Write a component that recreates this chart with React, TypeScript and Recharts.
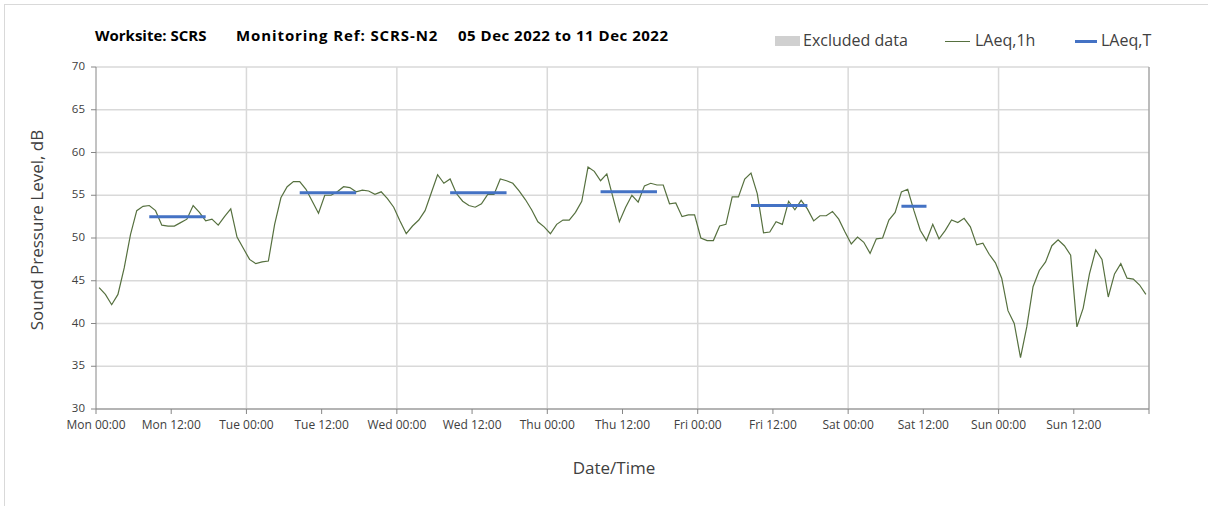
import { LineChart, Line, XAxis, YAxis, CartesianGrid, ReferenceLine } from "recharts";

// LAeq,1h readings, one per hour from Mon 00:00 (05 Dec 2022) to Sun 23:00 (11 Dec 2022)
const hourlyLevels = [
  // Mon
  44.2, 43.4, 42.2, 43.4, 46.5, 50.4, 53.2, 53.7, 53.8, 53.2, 51.5, 51.4,
  51.4, 51.8, 52.2, 53.8, 53.0, 52.0, 52.2, 51.5, 52.5, 53.4, 50.1, 48.8,
  // Tue
  47.5, 47.0, 47.2, 47.3, 51.6, 54.7, 56.0, 56.6, 56.6, 55.7, 54.3, 52.9,
  55.0, 55.0, 55.4, 56.0, 55.9, 55.4, 55.6, 55.5, 55.1, 55.4, 54.6, 53.6,
  // Wed
  52.0, 50.5, 51.4, 52.1, 53.2, 55.3, 57.4, 56.4, 56.9, 55.2, 54.3, 53.8,
  53.6, 54.0, 55.1, 55.1, 56.9, 56.7, 56.4, 55.5, 54.5, 53.3, 51.9, 51.3,
  // Thu
  50.5, 51.6, 52.1, 52.1, 53.0, 54.3, 58.3, 57.8, 56.7, 57.5, 54.7, 51.9,
  53.6, 55.0, 54.2, 56.1, 56.4, 56.2, 56.2, 54.0, 54.1, 52.5, 52.7, 52.7,
  // Fri
  50.0, 49.7, 49.7, 51.4, 51.6, 54.8, 54.8, 56.9, 57.6, 55.2, 50.6, 50.7,
  51.9, 51.6, 54.3, 53.3, 54.4, 53.4, 52.0, 52.6, 52.6, 53.1, 52.2, 50.7,
  // Sat
  49.3, 50.1, 49.5, 48.2, 49.9, 50.0, 52.1, 53.0, 55.4, 55.7, 53.2, 50.9,
  49.7, 51.6, 49.9, 50.9, 52.1, 51.8, 52.3, 51.3, 49.2, 49.4, 48.1, 47.1,
  // Sun
  45.3, 41.5, 40.0, 36.0, 39.6, 44.3, 46.2, 47.2, 49.1, 49.8, 49.1, 48.0,
  39.6, 41.8, 45.8, 48.6, 47.5, 43.1, 45.8, 47.0, 45.3, 45.2, 44.5, 43.4,
];

// LAeq,T over the daytime assessment period of each day (Mon..Sat)
const periodLevels = [52.5, 55.3, 55.3, 55.4, 53.8, 53.7];
const periodStartHour = [8, 8, 8, 8, 8, 8];
const periodEndHour = [18, 18, 18, 18, 18, 13];

const tickHours = [0, 12, 24, 36, 48, 60, 72, 84, 96, 108, 120, 132, 144, 156, 168];
const tickLabels = [
  "Mon 00:00", "Mon 12:00", "Tue 00:00", "Tue 12:00", "Wed 00:00", "Wed 12:00",
  "Thu 00:00", "Thu 12:00", "Fri 00:00", "Fri 12:00", "Sat 00:00", "Sat 12:00",
  "Sun 00:00", "Sun 12:00", "",
];
const dayBoundaries = [24, 48, 72, 96, 120, 144];
const yTicks = [30, 35, 40, 45, 50, 55, 60, 65, 70];

const chartData = hourlyLevels.map((v, i) => {
  const day = Math.floor(i / 24);
  const hr = i % 24;
  const inPeriod = day < periodLevels.length && hr >= periodStartHour[day] && hr < periodEndHour[day];
  return { t: i + 0.5, l1h: v, laeqT: inPeriod ? periodLevels[day] : null };
});

const FONT = "'Open Sans', 'Noto Sans', sans-serif";
const TEXT = "#404040";
const GREEN = "#56703f";
const BLUE = "#4472c4";

const abs = (left: number, top: number, extra: any = {}) => ({ position: "absolute" as const, left, top, whiteSpace: "pre" as const, ...extra });

export default function App() {
  const titleStyle = { fontFamily: FONT, fontSize: 15, fontWeight: 700, color: "#000" };
  const legendText = { fontFamily: FONT, fontSize: 16, color: TEXT };
  return (
    <div style={{ position: "absolute", left: 0, top: 0, width: 1208, height: 506, background: "#fff", overflow: "hidden" }}>
      <div style={{ position: "absolute", left: 4, top: 4, right: 0, bottom: 0, borderLeft: "1px solid #d9d9d9", borderTop: "1px solid #d9d9d9" }} />
      <LineChart
        width={1208}
        height={506}
        data={chartData}
        margin={{ top: 67, right: 59, bottom: 0, left: 0 }}
        style={{ position: "absolute", left: 0, top: 0 }}
      >
        <CartesianGrid vertical={false} stroke="#d9d9d9" strokeWidth={1.5} />
        {dayBoundaries.map((d) => (
          <ReferenceLine key={d} x={d} stroke="#d9d9d9" strokeWidth={1.5} />
        ))}
        <ReferenceLine x={168} stroke="#a6a6a6" strokeWidth={1.5} />
        <XAxis
          type="number"
          dataKey="t"
          domain={[0, 168]}
          ticks={tickHours}
          tickFormatter={(h: number) => tickLabels[tickHours.indexOf(h)] ?? ""}
          interval={0}
          height={97}
          tickSize={5}
          tickMargin={6}
          stroke="#868686"
          tick={{ fill: TEXT, fontSize: 12, fontFamily: FONT }}
        />
        <YAxis
          type="number"
          domain={[30, 70]}
          ticks={yTicks}
          interval={0}
          width={96}
          tickSize={5}
          tickMargin={6}
          stroke="#868686"
          tick={{ fill: TEXT, fontSize: 11.5, fontFamily: FONT, dy: -1 }}
        />
        <Line
          type="linear"
          dataKey="l1h"
          name="LAeq,1h"
          stroke={GREEN}
          strokeWidth={1.2}
          dot={false}
          activeDot={false}
          isAnimationActive={false}
        />
        <Line
          type="linear"
          dataKey="laeqT"
          name="LAeq,T"
          stroke={BLUE}
          strokeWidth={3}
          dot={false}
          activeDot={false}
          connectNulls={false}
          isAnimationActive={false}
        />
      </LineChart>

      {/* title */}
      <div style={abs(95, 25, titleStyle)}>Worksite: SCRS</div>
      <div style={abs(236, 25, { ...titleStyle, letterSpacing: 0.9 })}>Monitoring Ref: SCRS-N2</div>
      <div style={abs(458, 25, { ...titleStyle, letterSpacing: 0.5 })}>05 Dec 2022 to 11 Dec 2022</div>

      {/* legend */}
      <div style={abs(775, 36, { width: 25, height: 10, background: "#d0d0d0" })} />
      <div style={abs(803, 29, legendText)}>Excluded data</div>
      <div style={abs(945, 41, { width: 25, height: 1, background: GREEN })} />
      <div style={abs(975, 29, legendText)}>LAeq,1h</div>
      <div style={abs(1075, 40, { width: 22, height: 3, background: BLUE })} />
      <div style={abs(1101, 29, legendText)}>LAeq,T</div>

      {/* axis titles */}
      <div style={abs(36, 230, { fontFamily: FONT, fontSize: 17, color: TEXT, transform: "translate(-50%, -50%) rotate(-90deg)" })}>
        Sound Pressure Level, dB
      </div>
      <div style={abs(614, 467, { fontFamily: FONT, fontSize: 17, color: TEXT, transform: "translate(-50%, -50%)" })}>
        Date/Time
      </div>
    </div>
  );
}
